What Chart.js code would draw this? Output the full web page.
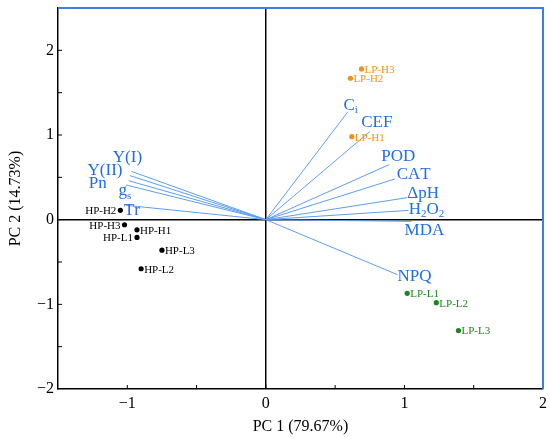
<!DOCTYPE html>
<html>
<head>
<meta charset="utf-8">
<script src="https://cdn.jsdelivr.net/npm/chart.js@4.4.1/dist/chart.umd.min.js"></script>
<style>
  html, body { margin: 0; padding: 0; background: #fff; }
  #wrap { width: 550px; height: 438px; }
</style>
</head>
<body>
<div id="wrap"><canvas id="pca-chart"></canvas></div>
<script>
// scores
const hpNames = ["HP-H1", "HP-H2", "HP-H3", "HP-L1", "HP-L2", "HP-L3"];
const hpX = [-0.93, -1.05, -1.02, -0.93, -0.9, -0.75];
const hpY = [-0.12, 0.11, -0.06, -0.21, -0.58, -0.36];

const lphNames = ["LP-H1", "LP-H2", "LP-H3"];
const lphX = [0.62, 0.61, 0.69];
const lphY = [0.98, 1.67, 1.78];

const lplNames = ["LP-L1", "LP-L2", "LP-L3"];
const lplX = [1.02, 1.23, 1.39];
const lplY = [-0.87, -0.98, -1.31];

// loadings (underscore = subscript)
const varNames = ["Y(I)", "Y(II)", "Pn", "g_s", "Tr", "C_i", "CEF", "POD", "CAT", "ΔpH", "H_2O_2", "MDA", "NPQ"];
const loadX = [-0.97, -0.98, -0.99, -1.01, -1.01, 0.59, 0.75, 0.89, 0.93, 1.02, 1.03, 1.05, 0.95];
const loadY = [0.57, 0.52, 0.46, 0.41, 0.17, 1.27, 1.04, 0.65, 0.48, 0.26, 0.11, -0.02, -0.65];

const xTicks = [-1, 0, 1, 2];
const yTicks = [-2, -1, 0, 1, 2];

// label placement (pixel offsets from the arrow tip), style only
const varLabelOffset = {
  "Y(I)": [-4, -14], "Y(II)": [-25, -5], "Pn": [-31, 3], "g_s": [-1, 6], "Tr": [6, 5],
  "C_i": [3, -7], "CEF": [7, -9], "POD": [9, -8], "CAT": [19, -4], "ΔpH": [16, -4],
  "H_2O_2": [18, -1], "MDA": [13, 9], "NPQ": [17, 2],
};
const leftLabels = ["HP-H2", "HP-H3", "HP-L1"];

const SERIF = "'Liberation Serif', 'DejaVu Serif', serif";
const BLUE_TXT = "#1f6fe0";
const BLUE_LINE = "#5d9df2";
const ORANGE = "#f39018";
const GREEN = "#1b861b";

function pts(xs, ys) {
  return xs.map((x, i) => ({ x: x, y: ys[i] }));
}

const minus = (v) => (v < 0 ? "\u2212" + Math.abs(v) : String(v));

const vectorSets = varNames.map((name, i) => ({
  label: name,
  data: [{ x: 0, y: 0 }, { x: loadX[i], y: loadY[i] }],
  showLine: true,
  borderColor: BLUE_LINE,
  borderWidth: 1,
  pointRadius: 0,
}));

const scoreSets = [
  { label: "HP", names: hpNames, data: pts(hpX, hpY), color: "#000" },
  { label: "LP-H", names: lphNames, data: pts(lphX, lphY), color: ORANGE },
  { label: "LP-L", names: lplNames, data: pts(lplX, lplY), color: GREEN },
].map((s) => ({
  label: s.label,
  names: s.names,
  data: s.data,
  showLine: false,
  pointRadius: 2.6,
  pointBackgroundColor: s.color,
  pointBorderWidth: 0,
  labelColor: s.color,
}));

function drawRich(ctx, text, cx, cy, size) {
  const parts = [];
  for (let i = 0; i < text.length; i++) {
    if (text[i] === "_" && i + 1 < text.length) {
      parts.push({ t: text[i + 1], sub: true });
      i++;
    } else {
      parts.push({ t: text[i], sub: false });
    }
  }
  const subSize = Math.round(size * 0.62);
  let w = 0;
  parts.forEach((p) => {
    ctx.font = (p.sub ? subSize : size) + "px " + SERIF;
    p.w = ctx.measureText(p.t).width;
    w += p.w;
  });
  let x = cx - w / 2;
  ctx.textAlign = "left";
  ctx.textBaseline = "middle";
  parts.forEach((p) => {
    ctx.font = (p.sub ? subSize : size) + "px " + SERIF;
    ctx.fillText(p.t, x, p.sub ? cy + size * 0.3 : cy);
    x += p.w;
  });
}

const pcaDecor = {
  id: "pcaDecor",
  afterDatasetsDraw(chart) {
    const { ctx, chartArea: a, scales } = chart;
    const xs = scales.x, ys = scales.y;
    ctx.save();

    // inward ticks
    ctx.strokeStyle = "#000";
    ctx.lineWidth = 1;
    xs.ticks.forEach((t) => {
      const px = xs.getPixelForValue(t.value);
      if (px <= a.left + 1 || px >= a.right - 1) return;
      ctx.beginPath();
      ctx.moveTo(px, a.bottom);
      ctx.lineTo(px, a.bottom - 4);
      ctx.stroke();
    });
    ys.ticks.forEach((t) => {
      const py = ys.getPixelForValue(t.value);
      if (py <= a.top + 1 || py >= a.bottom - 1) return;
      ctx.beginPath();
      ctx.moveTo(a.left, py);
      ctx.lineTo(a.left + 4, py);
      ctx.stroke();
    });

    // top and right frame
    ctx.strokeStyle = "#3a7fe6";
    ctx.lineWidth = 2;
    ctx.beginPath();
    ctx.moveTo(a.left, a.top);
    ctx.lineTo(a.right, a.top);
    ctx.lineTo(a.right, a.bottom);
    ctx.stroke();

    // variable labels
    ctx.fillStyle = BLUE_TXT;
    varNames.forEach((name, i) => {
      const off = varLabelOffset[name] || [0, 0];
      const px = xs.getPixelForValue(loadX[i]) + off[0];
      const py = ys.getPixelForValue(loadY[i]) + off[1];
      drawRich(ctx, name, px, py, 17);
    });

    // sample labels
    ctx.font = "11px " + SERIF;
    ctx.textBaseline = "middle";
    chart.data.datasets.forEach((ds) => {
      if (!ds.names) return;
      ctx.fillStyle = ds.labelColor;
      ds.data.forEach((p, i) => {
        const px = xs.getPixelForValue(p.x);
        const py = ys.getPixelForValue(p.y) + 1;
        if (leftLabels.includes(ds.names[i])) {
          ctx.textAlign = "right";
          ctx.fillText(ds.names[i], px - 4, py);
        } else {
          ctx.textAlign = "left";
          ctx.fillText(ds.names[i], px + 3, py);
        }
      });
    });
    ctx.restore();
  },
};

const zeroLine = (c) => (c.tick && c.tick.value === 0 ? "#000" : "rgba(0,0,0,0)");

const pcaConfig = {
  type: "scatter",
  data: { datasets: [...vectorSets, ...scoreSets] },
  options: {
    responsive: true,
    maintainAspectRatio: false,
    animation: false,
    layout: { padding: { top: 8, right: 7, left: 0, bottom: 0 } },
    plugins: {
      legend: { display: false },
      tooltip: { enabled: false },
    },
    scales: {
      x: {
        type: "linear",
        min: -1.5,
        max: 2,
        afterBuildTicks(scale) {
          const t = [];
          for (let v = -1.5; v <= 2.001; v += 0.5) t.push({ value: Math.round(v * 10) / 10 });
          scale.ticks = t;
        },
        afterFit(scale) {
          scale.height = 49;
          scale.paddingLeft = 0;
          scale.paddingRight = 0;
        },
        border: { color: "#000", width: 1.5 },
        grid: { color: zeroLine, lineWidth: 1.5, drawTicks: false },
        ticks: {
          padding: 5,
          color: "#000",
          font: { family: SERIF, size: 16 },
          callback: (v) => (xTicks.includes(v) ? minus(v) : ""),
        },
        title: {
          display: true,
          text: "PC 1 (79.67%)",
          color: "#000",
          font: { family: SERIF, size: 16 },
          padding: { top: 0, bottom: 2 },
        },
      },
      y: {
        type: "linear",
        min: -2,
        max: 2.5,
        afterBuildTicks(scale) {
          const t = [];
          for (let v = -2; v <= 2.501; v += 0.5) t.push({ value: Math.round(v * 10) / 10 });
          scale.ticks = t;
        },
        afterFit(scale) {
          scale.width = 58;
          scale.paddingTop = 0;
          scale.paddingBottom = 0;
        },
        border: { color: "#000", width: 1.5 },
        grid: { color: zeroLine, lineWidth: 1.5, drawTicks: false },
        ticks: {
          padding: 4,
          color: "#000",
          font: { family: SERIF, size: 16 },
          callback: (v) => (yTicks.includes(v) ? minus(v) : ""),
        },
        title: {
          display: true,
          text: "PC 2 (14.73%)",
          color: "#000",
          font: { family: SERIF, size: 16 },
          padding: { top: 6, bottom: 0 },
        },
      },
    },
  },
  plugins: [pcaDecor],
};

const pcaChart = new Chart(document.getElementById("pca-chart"), pcaConfig);
</script>
</body>
</html>
